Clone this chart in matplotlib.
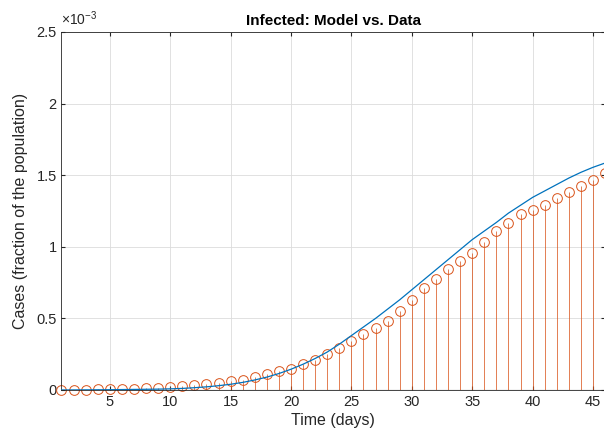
import numpy as np
import matplotlib
matplotlib.use("Agg")
import matplotlib.pyplot as plt
from matplotlib.ticker import FuncFormatter

plt.rcParams['font.family'] = ['Liberation Sans', 'DejaVu Sans']
plt.rcParams['mathtext.default'] = 'regular'

# days 1..46
days = list(range(1, 47))

# observed infected fraction (x 1e-3)
data_e3 = [0.0, 0.002, 0.003, 0.004, 0.005, 0.007, 0.009, 0.012, 0.015, 0.02,
           0.026, 0.035, 0.042, 0.051, 0.063, 0.07, 0.089, 0.112, 0.13, 0.145,
           0.18, 0.21, 0.251, 0.295, 0.344, 0.389, 0.435, 0.482, 0.552, 0.628,
           0.712, 0.777, 0.843, 0.901, 0.959, 1.036, 1.108, 1.166, 1.229, 1.257,
           1.292, 1.341, 1.383, 1.425, 1.466, 1.517]

# model fit (x 1e-3)
model_e3 = [0.0, 0.0005, 0.001, 0.0015, 0.002, 0.003, 0.004, 0.005, 0.006, 0.008,
            0.011, 0.016, 0.022, 0.03, 0.04, 0.053, 0.07, 0.09, 0.115, 0.145,
            0.18, 0.22, 0.265, 0.32, 0.38, 0.44, 0.5, 0.565, 0.63, 0.70,
            0.77, 0.84, 0.91, 0.98, 1.05, 1.11, 1.17, 1.235, 1.29, 1.345,
            1.39, 1.435, 1.48, 1.52, 1.555, 1.585]

data = np.array(data_e3) * 1e-3
model = np.array(model_e3) * 1e-3

ytick_vals = [0, 0.5e-3, 1e-3, 1.5e-3, 2e-3, 2.5e-3]
xtick_vals = [5, 10, 15, 20, 25, 30, 35, 40, 45]

dark = '#262626'
orange = '#D95319'
blue = '#0072BD'

fig = plt.figure(figsize=(6.04, 4.38), dpi=100)
ax = fig.add_axes([0.1018, 0.1096, 0.9, 0.8174])

ax.plot(days, model, color=blue, lw=0.9, zorder=3)
markerline, stemlines, baseline = ax.stem(days, data)
plt.setp(stemlines, color=orange, linewidth=0.7, alpha=0.75)
plt.setp(markerline, marker='o', markersize=7, markerfacecolor='none',
         markeredgecolor=orange, markeredgewidth=0.7, clip_on=False)
plt.setp(baseline, color=dark, linewidth=0.8)

ax.set_xlim(1, 46)
ax.set_ylim(0, 2.5e-3)
ax.set_xticks(xtick_vals)
ax.set_yticks(ytick_vals)
ax.yaxis.set_major_formatter(FuncFormatter(lambda v, p: f"{v*1e3:g}"))
ax.grid(True, color='#dcdcdc', linewidth=0.6)
ax.set_axisbelow(True)
ax.tick_params(direction='in', length=3, colors=dark, labelsize=10.5,
               top=True, right=True)
for s in ax.spines.values():
    s.set_color(dark)
    s.set_linewidth(0.6)

ax.text(0.0, 1.012, r'$\times10^{-3}$', transform=ax.transAxes,
        fontsize=10, color=dark, ha='left', va='bottom')
ax.set_title('Infected: Model vs. Data', fontsize=11, fontweight='bold',
             color='black', pad=5)
ax.set_xlabel('Time (days)', fontsize=11.5, color=dark, labelpad=3)
ax.set_ylabel('Cases (fraction of the population)', fontsize=11.5, color=dark,
              labelpad=6)

fig.savefig('out.png', dpi=100)
